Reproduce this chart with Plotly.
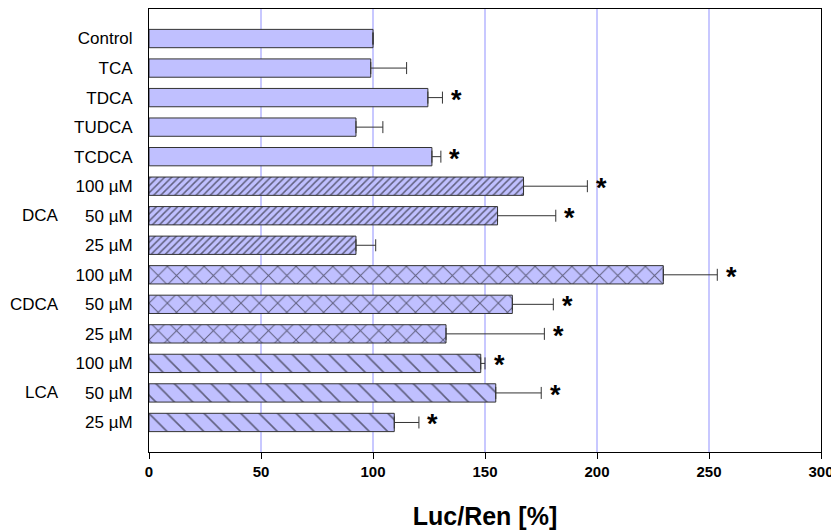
import plotly.graph_objects as go

labels = ["Control", "TCA", "TDCA", "TUDCA", "TCDCA",
          "100 µM", "50 µM", "25 µM",
          "100 µM", "50 µM", "25 µM",
          "100 µM", "50 µM", "25 µM"]
values = [100, 99, 124.5, 92.4, 126.3, 167.2, 155.6, 92.4, 229.6, 162.2, 132.6, 148.1, 154.8, 109.5]
errors = [0, 16, 6.5, 12, 4, 28.5, 26, 8.8, 24.1, 18.3, 43.9, 1.9, 20.3, 11]
significant = [False, False, True, False, True, True, True, False, True, True, True, True, True, True]
patterns = ["", "", "", "", "", "/", "/", "/", "x", "x", "x", "\\", "\\", "\\"]
groups = ["DCA", "CDCA", "LCA"]
group_rows = [6, 9, 12]

pattern_sizes = {"": 8, "/": 5, "x": 13, "\\": 13}
pattern_solidity = {"": 0.2, "/": 0.3, "x": 0.15, "\\": 0.12}
ypos = list(range(len(labels)))

fig = go.Figure()
fig.add_trace(go.Bar(
    x=values, y=ypos, orientation="h", width=0.62,
    marker=dict(
        color="#C0C0FF",
        line=dict(color="#333333", width=1),
        pattern=dict(shape=patterns, fgcolor="#000000", bgcolor="#C0C0FF",
                     size=[pattern_sizes[p] for p in patterns],
                     solidity=[pattern_solidity[p] for p in patterns], fillmode="overlay"),
    ),
    error_x=dict(type="data", symmetric=False, array=errors, arrayminus=[0] * len(errors),
                 color="#333333", thickness=1, width=6),
    showlegend=False,
))

for i, (v, e, s) in enumerate(zip(values, errors, significant)):
    if s:
        fig.add_annotation(x=v + e, y=i, text="<b>*</b>", showarrow=False,
                           xanchor="center", xshift=14, yshift=-2,
                           font=dict(family="Liberation Sans, Arial", size=27, color="black"))

for g, r in zip(groups, group_rows):
    fig.add_annotation(x=-0.131, xref="paper", y=r, yref="y", text=g, showarrow=False,
                       xanchor="right", font=dict(family="Liberation Sans, Arial", size=17, color="black"))

fig.update_layout(
    width=831, height=523,
    margin=dict(l=141, r=18, t=1, b=79),
    plot_bgcolor="white", paper_bgcolor="white",
    font=dict(family="Liberation Sans, Arial", color="black"),
    bargap=0.38,
)
fig.update_xaxes(
    range=[0, 300], tickvals=[0, 50, 100, 150, 200, 250, 300],
    showgrid=True, gridcolor="#C8C8FF", gridwidth=1.5,
    showline=True, linecolor="black", linewidth=1, mirror=True,
    ticks="outside", ticklen=6, tickcolor="black",
    tickfont=dict(family="Liberation Sans, Arial", size=15, color="black", weight="bold"),
    title=dict(text="<b>Luc/Ren [%]</b>", font=dict(family="Liberation Sans, Arial", size=25, color="black"), standoff=28),
    zeroline=False, automargin=False,
)
fig.update_yaxes(
    range=[14, -1], tickvals=ypos, ticktext=labels,
    showgrid=False, zeroline=False,
    showline=True, linecolor="black", linewidth=1, mirror=True,
    ticks="", ticklabelstandoff=12,
    tickfont=dict(family="Liberation Sans, Arial", size=17, color="black"),
    automargin=False,
)

fig.write_html("out.html")
